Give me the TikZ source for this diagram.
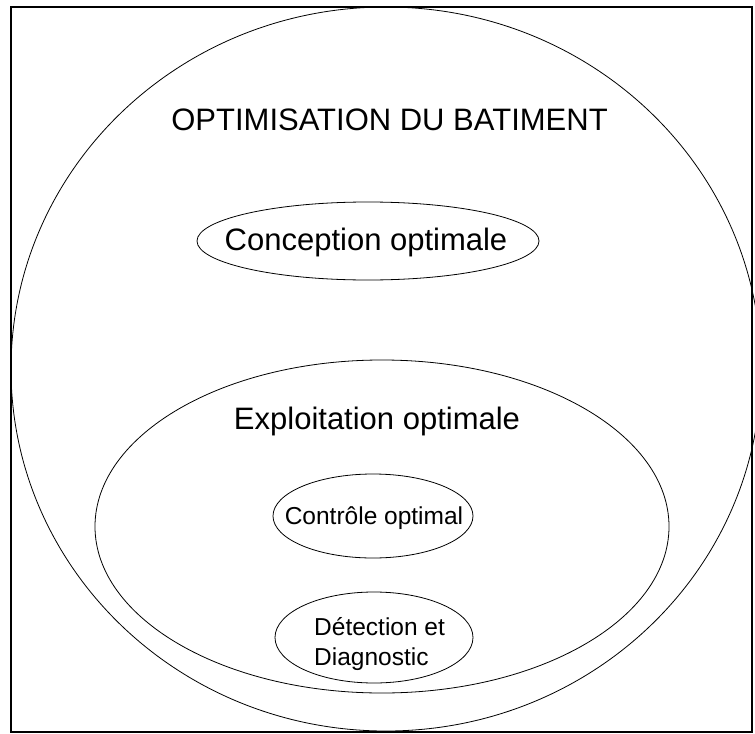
\documentclass[tikz,border=0pt]{standalone}
\usepackage{fontspec}
\setmainfont{Liberation Sans}
\usetikzlibrary{shapes.geometric}
\tikzset{
    cadre/.style={draw=black, line width=1.6bp},
    zone/.style={ellipse, draw=black, line width=0.8bp, inner sep=0pt},
    bigtext/.style={font=\fontsize{31bp}{37bp}\selectfont, inner sep=0pt, anchor=base},
    smalltext/.style={font=\fontsize{24.5bp}{30bp}\selectfont, inner sep=0pt, align=left}
}

\begin{document}
\begin{tikzpicture}[x=1bp, y=-1bp]
    \useasboundingbox (0,0) rectangle (755,734);
    \draw [cadre] (11,7) rectangle (752,732);

    \node (batiment) [zone, minimum width=750bp, minimum height=724bp] at (386,369) {};
    \node (conception) [zone, minimum width=342bp, minimum height=78bp] at (368,241) {};
    \node (exploitation) [zone, minimum width=574bp, minimum height=333bp] at (382,526.5) {};
    \node (controle) [zone, minimum width=200bp, minimum height=84bp] at (373,516) {};
    \node (detection) [zone, minimum width=198bp, minimum height=91bp] at (374,637.5) {};

    \node (titre) [bigtext] at (389.5,131) {OPTIMISATION DU BATIMENT};
    \node (conctxt) [bigtext] at (366,250) {Conception optimale};
    \node (explotxt) [bigtext] at (377,429) {Exploitation optimale};
    \node (ctrltxt) [smalltext, anchor=base] at (374,524) {Contrôle optimal};
    \node (dettxt) [smalltext, anchor=base west] at (314,665) {Détection et\\Diagnostic};
\end{tikzpicture}
\end{document}
